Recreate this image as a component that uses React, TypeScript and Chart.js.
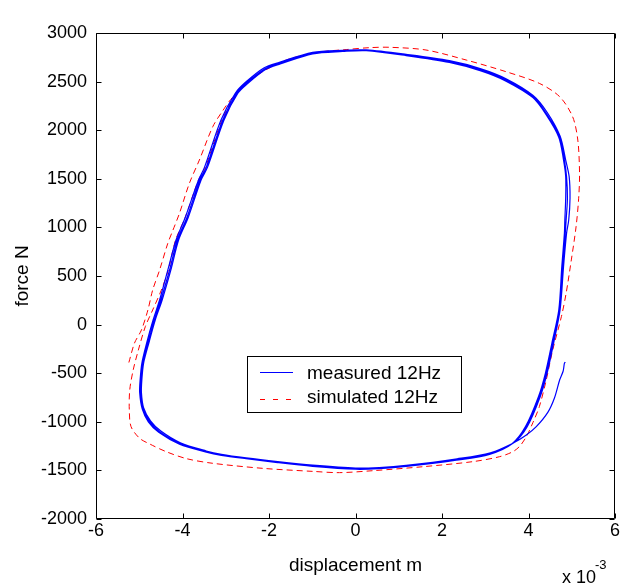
import React, { useEffect, useRef } from "react";
import { Chart, registerables } from "chart.js";

Chart.register(...registerables);

// displacement in units of 1e-3 m, force in N
const xTickValues = [-6, -4, -2, 0, 2, 4, 6];
const yTickValues = [-2000, -1500, -1000, -500, 0, 500, 1000, 1500, 2000, 2500, 3000];

const measuredDisp = [
  4.85, 4.83, 4.8, 4.72, 4.6, 4.45, 4.18, 3.95, 3.64,
  // loop A
  3.1, 2.33, 1.17, 0.55, 0.0, -0.99, -1.8, -2.53, -3.1, -3.45, -4.07, -4.53, -4.76, -4.92, -4.97, -4.96, -4.92, -4.8, -4.65, -4.5, -4.3, -4.12, -3.9, -3.6, -3.45, -3.07, -2.75, -2.53, -2.1, -1.76, -0.99, -0.3, 0.25, 1.17, 2.17, 2.9, 3.48, 4.1, 4.41, 4.72, 4.83, 4.88, 4.9, 4.87, 4.85, 4.79, 4.72, 4.56, 4.41, 4.25, 3.95, 3.64,
  // loop B
  3.1, 2.33, 1.17, 0.55, 0.0, -0.99, -1.8, -2.53, -3.1, -3.45, -4.07, -4.55, -4.79, -4.93, -4.99, -4.98, -4.94, -4.83, -4.68, -4.53, -4.34, -4.15, -3.94, -3.63, -3.49, -3.11, -2.78, -2.55, -2.12, -1.76, -0.99, -0.3, 0.25, 1.17, 2.17, 2.9, 3.48, 4.1, 4.43, 4.73, 4.86, 4.94, 4.96, 4.93, 4.88, 4.81, 4.73, 4.58, 4.43, 4.27, 3.97, 3.66,
  // loop C
  3.12, 2.35, 1.17, 0.55, 0.0, -0.99, -1.8, -2.53, -3.1, -3.45, -4.05, -4.5, -4.74, -4.9, -4.95, -4.94, -4.9, -4.78, -4.63, -4.47, -4.27, -4.09, -3.87, -3.57, -3.42, -3.04, -2.72, -2.5, -2.08, -1.74, -0.99, -0.3, 0.25, 1.17, 2.17, 2.9, 3.48, 4.1, 4.4, 4.7, 4.81, 4.86, 4.86, 4.84, 4.83, 4.77, 4.7, 4.54, 4.39, 4.23, 3.93, 3.62, 3.1, 2.33, 1.5,
];
const measuredForce = [
  -385, -400, -480, -570, -755, -900, -1050, -1136, -1221,
  // loop A
  -1324, -1386, -1452, -1475, -1480, -1450, -1415, -1376, -1340, -1307, -1221, -1101, -998, -861, -700, -570, -398, -192, 47, 253, 560, 870, 1100, 1488, 1620, 2105, 2380, 2483, 2630, 2688, 2791, 2815, 2822, 2774, 2705, 2620, 2516, 2345, 2174, 1933, 1693, 1522, 1300, 1076, 939, 596, 150, -192, -501, -742, -1050, -1221,
  // loop B
  -1335, -1395, -1460, -1482, -1488, -1458, -1420, -1380, -1345, -1312, -1230, -1108, -1000, -870, -700, -570, -398, -192, 47, 253, 560, 870, 1100, 1488, 1620, 2105, 2380, 2490, 2640, 2698, 2800, 2822, 2826, 2780, 2715, 2632, 2530, 2360, 2185, 1940, 1693, 1522, 1300, 1076, 939, 596, 150, -192, -501, -742, -1050, -1215,
  // loop C
  -1318, -1380, -1448, -1470, -1476, -1446, -1410, -1372, -1335, -1300, -1215, -1095, -990, -855, -700, -570, -398, -192, 47, 253, 560, 870, 1100, 1488, 1620, 2105, 2380, 2478, 2625, 2682, 2786, 2810, 2818, 2768, 2697, 2610, 2505, 2335, 2165, 1928, 1693, 1522, 1300, 1076, 939, 596, 150, -192, -501, -742, -1050, -1225, -1330, -1390, -1440,
];

const simulatedDisp = [
  -5.24, -5.11, -4.95, -4.8, -4.69, -4.53, -4.34, -4.22, -4.07, -3.84, -3.61, -3.3, -3.07, -2.84, -2.38, -1.6, -0.8, -0.2, 0.32, 0.79, 1.63, 2.56, 3.48, 4.25, 4.72, 5.02, 5.14, 5.18, 5.16, 5.1, 4.99, 4.87, 4.76, 4.56, 4.41, 4.25, 4.1, 3.95, 3.8, 3.64, 3.33, 2.71, 1.56, 0.4, -0.37, -0.99, -2.14, -3.3, -3.9, -4.38, -4.75, -4.99, -5.19, -5.23, -5.22, -5.14, -5.02, -4.86, -4.69, -4.49, -4.33, -4.16, -3.94, -3.63, -3.47, -3.09, -2.76, -2.5,
];
const simulatedForce = [
  -390, -190, -56, 150, 355, 561, 836, 973, 1145, 1455, 1693, 2036, 2200, 2340, 2536, 2722, 2805, 2830, 2849, 2853, 2825, 2722, 2602, 2482, 2345, 2139, 1899, 1557, 1300, 1007, 665, 322, 81, -261, -570, -845, -1010, -1153, -1250, -1307, -1359, -1410, -1462, -1503, -1523, -1510, -1479, -1427, -1380, -1307, -1230, -1170, -1050, -879, -673, -467, -261, -21, 150, 355, 560, 870, 1100, 1488, 1620, 2105, 2380, 2500,
];

const legendLabels = ["measured 12Hz", "simulated 12Hz"];
const xAxisTitle = "displacement m";
const yAxisTitle = "force N";

const FONT = "'Liberation Sans', Arial, Helvetica, sans-serif";

const framePlugin = {
  id: "matlabFrame",
  afterDraw(chart: any) {
    const { ctx, chartArea, scales } = chart;
    const { left, right, top, bottom } = chartArea;
    const xs = scales.x;
    const ys = scales.y;
    ctx.save();
    ctx.strokeStyle = "#000";
    ctx.lineWidth = 1;
    const L = Math.round(left) + 0.5;
    const R = Math.round(right) - 0.5;
    const T = Math.round(top) + 0.5;
    const B = Math.round(bottom) - 0.5;
    ctx.beginPath();
    ctx.rect(L, T, R - L, B - T);
    ctx.stroke();
    const tl = 5;
    ctx.beginPath();
    xTickValues.forEach((v) => {
      const px = Math.round(xs.getPixelForValue(v)) + 0.5;
      ctx.moveTo(px, B);
      ctx.lineTo(px, B - tl);
      ctx.moveTo(px, T);
      ctx.lineTo(px, T + tl);
    });
    yTickValues.forEach((v) => {
      const py = Math.round(ys.getPixelForValue(v)) + 0.5;
      ctx.moveTo(L, py);
      ctx.lineTo(L + tl, py);
      ctx.moveTo(R, py);
      ctx.lineTo(R - tl, py);
    });
    ctx.stroke();

    // legend
    const lx = 247.5, ly = 356.5, lw = 214, lh = 56;
    ctx.fillStyle = "#fff";
    ctx.fillRect(lx, ly, lw, lh);
    ctx.strokeStyle = "#000";
    ctx.strokeRect(lx, ly, lw, lh);
    ctx.lineWidth = 1;
    ctx.strokeStyle = "#0000ff";
    ctx.beginPath();
    ctx.moveTo(260, 372.5);
    ctx.lineTo(293, 372.5);
    ctx.stroke();
    ctx.strokeStyle = "#ff0000";
    ctx.setLineDash([5, 8]);
    ctx.beginPath();
    ctx.moveTo(260, 399.5);
    ctx.lineTo(296, 399.5);
    ctx.stroke();
    ctx.setLineDash([]);
    ctx.fillStyle = "#000";
    ctx.font = `19px ${FONT}`;
    ctx.textAlign = "left";
    ctx.textBaseline = "alphabetic";
    ctx.fillText(legendLabels[0], 307, 379);
    ctx.fillText(legendLabels[1], 307, 403);

    // axis titles
    ctx.font = `19px ${FONT}`;
    ctx.textAlign = "center";
    ctx.fillText(xAxisTitle, (left + right) / 2, 571);
    ctx.save();
    ctx.translate(28, (top + bottom) / 2);
    ctx.rotate(-Math.PI / 2);
    ctx.fillText(yAxisTitle, 0, 0);
    ctx.restore();

    // exponent
    ctx.textAlign = "left";
    ctx.font = `18px ${FONT}`;
    ctx.fillText("x 10", 562, 583);
    ctx.font = `13px ${FONT}`;
    ctx.fillText("-3", 595, 569);
    ctx.restore();
  },
};

export default function App() {
  const canvasRef = useRef<HTMLCanvasElement | null>(null);

  useEffect(() => {
    const canvas = canvasRef.current;
    if (!canvas) return;
    const measured = measuredDisp.map((x, i) => ({ x, y: measuredForce[i] }));
    const simulated = simulatedDisp.map((x, i) => ({ x, y: simulatedForce[i] }));
    const chart = new Chart(canvas, {
      type: "scatter",
      data: {
        datasets: [
          {
            label: legendLabels[0],
            data: measured,
            showLine: true,
            borderColor: "#0000ff",
            backgroundColor: "#0000ff",
            borderWidth: 1.2,
            pointRadius: 0,
            tension: 0.3,
          },
          {
            label: legendLabels[1],
            data: simulated,
            showLine: true,
            borderColor: "#ff0000",
            backgroundColor: "#ff0000",
            borderWidth: 1,
            borderDash: [6, 4],
            pointRadius: 0,
            tension: 0.3,
          },
        ],
      },
      options: {
        responsive: false,
        animation: false,
        events: [],
        layout: { padding: { top: 33, right: 21, left: 0, bottom: 0 } },
        plugins: {
          legend: { display: false },
          tooltip: { enabled: false },
          title: { display: false },
        },
        scales: {
          x: {
            type: "linear",
            min: -6,
            max: 6,
            afterBuildTicks: (scale: any) => {
              scale.ticks = xTickValues.map((v) => ({ value: v }));
            },
            afterFit: (scale: any) => {
              scale.height = 66;
            },
            grid: { display: false },
            border: { display: false },
            ticks: {
              color: "#000",
              padding: -7,
              maxRotation: 0,
              font: { size: 18, family: FONT },
              callback: (v: any) => String(v),
            },
          },
          y: {
            type: "linear",
            min: -2000,
            max: 3000,
            afterBuildTicks: (scale: any) => {
              scale.ticks = yTickValues.map((v) => ({ value: v }));
            },
            afterFit: (scale: any) => {
              scale.width = 96;
            },
            grid: { display: false },
            border: { display: false },
            ticks: {
              color: "#000",
              padding: 1,
              font: { size: 18, family: FONT },
              callback: (v: any) => String(v),
            },
          },
        },
      },
      plugins: [framePlugin],
    });
    return () => chart.destroy();
  }, []);

  return (
    <div style={{ position: "absolute", left: 0, top: 0, width: 636, height: 585, background: "#fff" }}>
      <canvas ref={canvasRef} width={636} height={585} style={{ display: "block", width: 636, height: 585 }} />
    </div>
  );
}
